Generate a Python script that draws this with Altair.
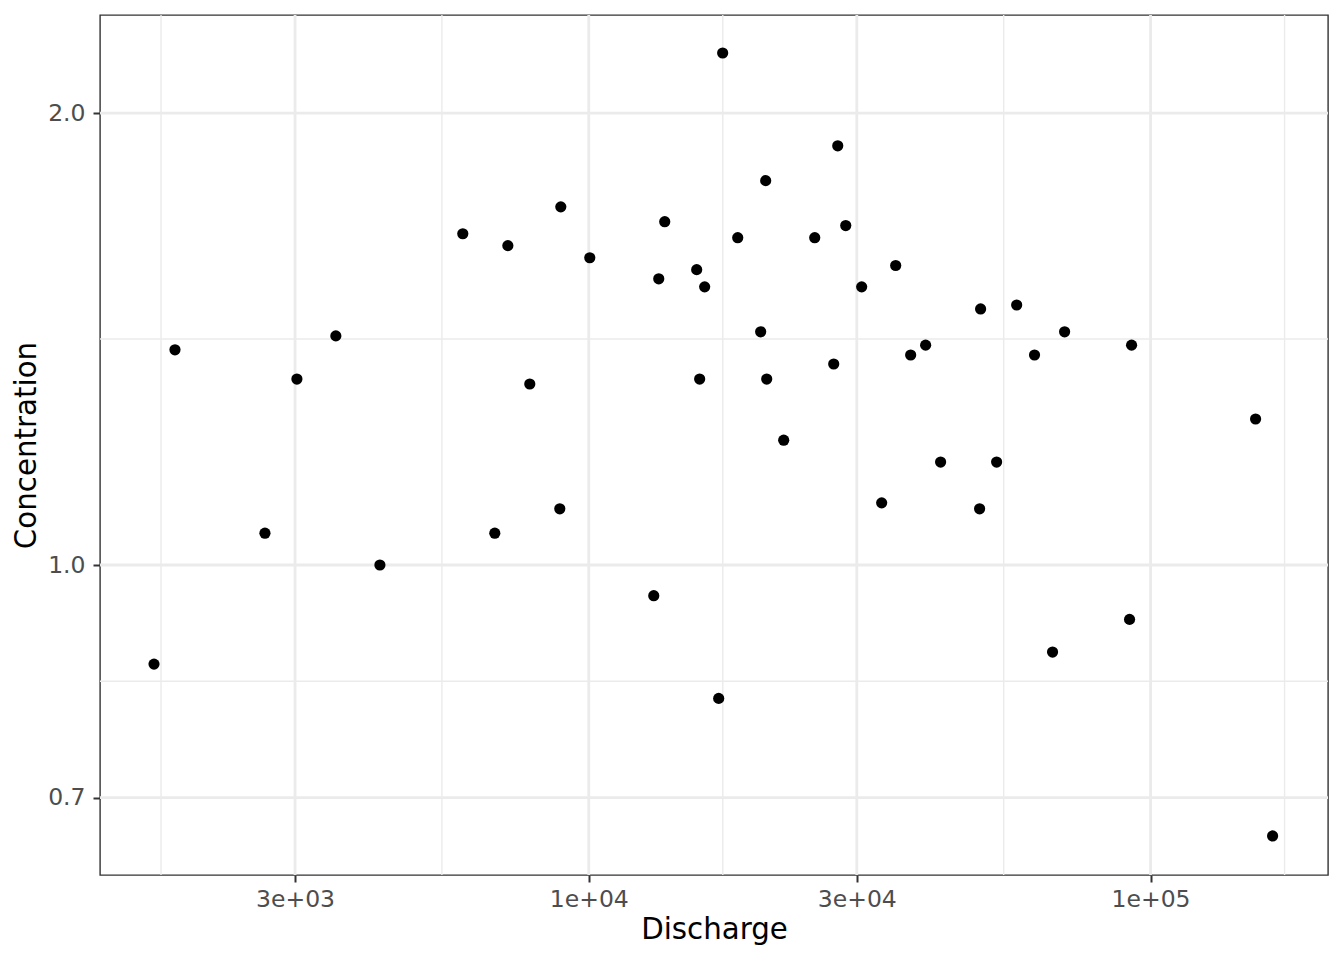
import math
import altair as alt
import pandas as pd

# Data (log-log scatter)
discharge = [1683, 1834, 2652, 3023, 3546, 4248, 5967, 6803, 7177, 7852,
             8880, 8917, 10041, 13052, 13322, 13653, 15563, 15753, 16080, 17031,
             17312, 18414, 20230, 20650, 20736, 22233, 25248, 27290, 27745, 28668,
             30604, 33218, 35181, 37410, 39775, 42296, 49625, 49830, 53210, 57770,
             62150, 66920, 70310, 91750, 92520, 153800, 164900]
concentration = [0.859, 1.391, 1.050, 1.330, 1.421, 1.000, 1.662, 1.050, 1.632, 1.320,
                 1.090, 1.732, 1.602, 0.954, 1.551, 1.693, 1.573, 1.330, 1.532, 0.815,
                 2.193, 1.652, 1.430, 1.803, 1.330, 1.211, 1.652, 1.361, 1.902, 1.683,
                 1.532, 1.100, 1.583, 1.380, 1.401, 1.171, 1.090, 1.481, 1.171, 1.490,
                 1.380, 0.875, 1.430, 0.920, 1.401, 1.251, 0.660]

x_ticks = [3000, 10000, 30000, 100000]
x_tick_labels = ["3e+03", "1e+04", "3e+04", "1e+05"]
x_breaks_ext = [1000, 3000, 10000, 30000, 100000, 300000]
y_ticks = [0.7, 1.0, 2.0]
y_tick_labels = ["0.7", "1.0", "2.0"]

x_domain = [1348.8, 206950]
y_domain = [0.62163, 2.3245]

x_minor = [math.sqrt(a * b) for a, b in zip(x_breaks_ext[:-1], x_breaks_ext[1:])]
x_minor = [v for v in x_minor if x_domain[0] < v < x_domain[1]]
y_minor = [math.sqrt(a * b) for a, b in zip(y_ticks[:-1], y_ticks[1:])]

df = pd.DataFrame({"Discharge": discharge, "Concentration": concentration})

def label_expr(vals, labels):
    expr = "''"
    for v, l in zip(reversed(vals), reversed(labels)):
        expr = f"abs(datum.value - {v}) < {v}*1e-6 ? '{l}' : ({expr})"
    return expr

FONT = "DejaVu Sans"
x_scale = alt.Scale(type="log", domain=x_domain, nice=False, zero=False)
y_scale = alt.Scale(type="log", domain=y_domain, nice=False, zero=False)

x_axis = alt.Axis(values=x_ticks, labelExpr=label_expr(x_ticks, x_tick_labels),
                  labelPadding=5, titlePadding=5)
y_axis = alt.Axis(values=y_ticks, labelExpr=label_expr(y_ticks, y_tick_labels),
                  labelPadding=8, titlePadding=6)

xminor_layer = alt.Chart(pd.DataFrame({"Discharge": x_minor})).mark_rule(
    color="#EBEBEB", strokeWidth=1.4).encode(
    x=alt.X("Discharge:Q", scale=x_scale, axis=x_axis))
xmajor_layer = alt.Chart(pd.DataFrame({"Discharge": x_ticks})).mark_rule(
    color="#EBEBEB", strokeWidth=2.8).encode(
    x=alt.X("Discharge:Q", scale=x_scale, axis=x_axis))
yminor_layer = alt.Chart(pd.DataFrame({"Concentration": y_minor})).mark_rule(
    color="#EBEBEB", strokeWidth=1.4).encode(
    y=alt.Y("Concentration:Q", scale=y_scale, axis=y_axis))
ymajor_layer = alt.Chart(pd.DataFrame({"Concentration": y_ticks})).mark_rule(
    color="#EBEBEB", strokeWidth=2.8).encode(
    y=alt.Y("Concentration:Q", scale=y_scale, axis=y_axis))

points = alt.Chart(df).mark_circle(color="black", opacity=1, size=125).encode(
    x=alt.X("Discharge:Q", scale=x_scale, axis=x_axis),
    y=alt.Y("Concentration:Q", scale=y_scale, axis=y_axis),
)

chart = alt.layer(xminor_layer, yminor_layer, xmajor_layer, ymajor_layer, points).properties(
    width=1228, height=860,
    autosize=alt.AutoSizeParams(type="none"),
    padding={"left": 92, "top": 7, "right": 8, "bottom": 80},
).configure(
    background="white",
    font=FONT,
).configure_view(
    stroke="#333333", strokeWidth=1.4,
).configure_axis(
    grid=False, domain=False, tickSize=7, tickWidth=2, tickColor="#333333",
    labelColor="#4D4D4D", labelFontSize=23.5, labelFont=FONT,
    titleFont=FONT, titleFontSize=29.3, titleColor="black", titleFontWeight="normal",
    labelFlush=False, labelOverlap=False,
)

chart.save("out.html", embed_options={"renderer": "svg", "actions": False})
